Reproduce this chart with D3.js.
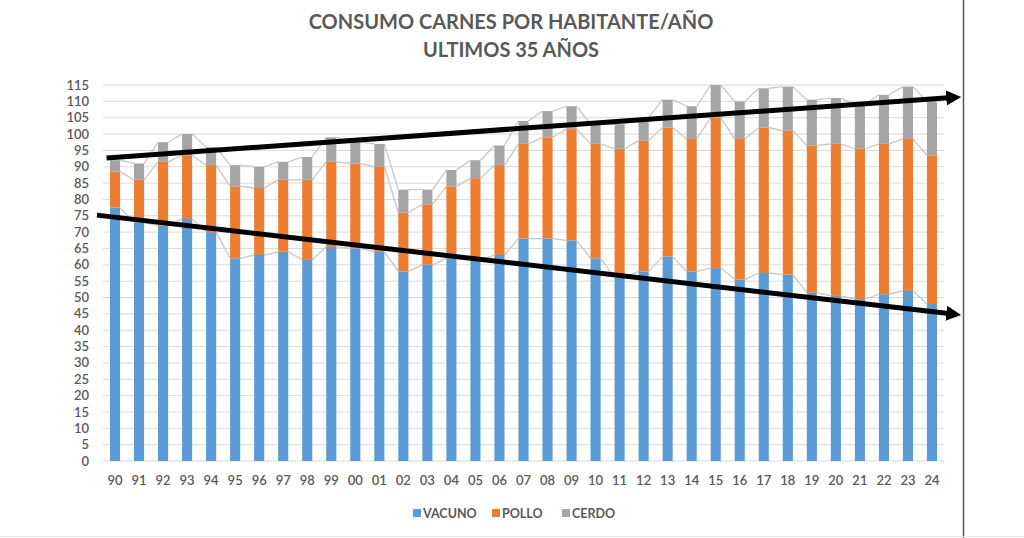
<!DOCTYPE html>
<html><head><meta charset="utf-8">
<script src="https://cdn.jsdelivr.net/npm/d3@7"></script>
<style>body{margin:0;background:#fff;}svg{display:block;}</style>
</head><body>
<svg id="c" width="1024" height="538"></svg>
<script>
const years = ["90","91","92","93","94","95","96","97","98","99","00","01","02","03","04","05","06","07","08","09","10","11","12","13","14","15","16","17","18","19","20","21","22","23","24"];
const vacuno = [77.5,73,72,74,70,62,63,64,61.5,65.5,65,64,58,60,62,61.5,63,68,68,67.5,62,56,58,62.5,58,59,55.5,57.5,57,51.5,50.5,49.5,51,52,48];
const pollo  = [11,13,19.5,19.5,20.5,22,20.5,22,24.5,26,26,26,18,18.5,22,25,27.5,29,31,34,35,39.5,40,39.5,40.5,46,43,44.5,44,45,46.5,46,46,46.5,45.5];
const cerdo  = [3.5,5,6,6.5,5.5,6.5,6.5,5.5,7,7.5,6.5,7,7,4.5,5,5.5,6,7,8,7,6,7.5,7,8.5,10,10,11.5,12,13.5,14,14,13.5,15,16,16.5];
const seriesNames = ["VACUNO","POLLO","CERDO"];
const seriesColors = ["#5B9BD5","#ED7D31","#A5A5A5"];
const yTicks = d3.range(0,116,5);
// hand-drawn trend arrows, in (category index, value) units
const trendUpper = [{i:-0.35,v:92.7},{i:35.3,v:111.4}];
const trendLower = [{i:-0.75,v:75.2},{i:35.3,v:44.6}];
const titleLines = ["CONSUMO CARNES POR HABITANTE/AÑO","ULTIMOS 35 AÑOS"];

const svg = d3.select("#c");
const font = "Lato, 'Open Sans', sans-serif";
const x = d3.scaleBand().domain(years).range([103,944]).paddingInner(0.58).paddingOuter(0.29);
const y = d3.scaleLinear().domain([0,115]).range([461,85]);
const xi = d3.scaleLinear().domain([0,1]).range([x(years[0])+x.bandwidth()/2, x(years[1])+x.bandwidth()/2]);

// gridlines
svg.append("g").selectAll("line").data(yTicks).join("line")
  .attr("x1",103).attr("x2",944).attr("y1",d=>y(d)).attr("y2",d=>y(d))
  .attr("stroke","#d9d9d9").attr("stroke-width",1);

// y labels
svg.append("g").selectAll("text").data(yTicks).join("text")
  .attr("x",89).attr("y",d=>y(d)).attr("dy","0.35em").attr("text-anchor","end")
  .attr("font-family",font).attr("font-size",13).attr("font-weight",600).attr("fill","#595959")
  .text(d=>d);

// stack
const rows = years.map((yr,i)=>({yr, VACUNO:vacuno[i], POLLO:pollo[i], CERDO:cerdo[i]}));
const stack = d3.stack().keys(seriesNames)(rows);

// series lines
stack.forEach((s,si)=>{
  const segs=[];
  for(let i=0;i<s.length-1;i++){
    segs.push({x1:x(years[i])+x.bandwidth(), y1:y(s[i][1]), x2:x(years[i+1]), y2:y(s[i+1][1])});
  }
  svg.append("g").selectAll("line").data(segs).join("line")
    .attr("x1",d=>d.x1).attr("y1",d=>d.y1).attr("x2",d=>d.x2).attr("y2",d=>d.y2)
    .attr("stroke","#c8c8c8").attr("stroke-width",1.3);
});

// bars
svg.append("g").selectAll("g").data(stack).join("g")
  .attr("fill",(d,i)=>seriesColors[i])
  .selectAll("rect").data(d=>d).join("rect")
  .attr("x",d=>x(d.data.yr)).attr("width",x.bandwidth())
  .attr("y",d=>y(d[1])).attr("height",d=>y(d[0])-y(d[1]));

// x labels
svg.append("g").selectAll("text").data(years).join("text")
  .attr("x",d=>x(d)+x.bandwidth()/2).attr("y",485).attr("text-anchor","middle")
  .attr("font-family",font).attr("font-size",13).attr("font-weight",600).attr("fill","#595959")
  .text(d=>d);

// title
svg.append("g").selectAll("text").data(titleLines).join("text")
  .attr("x",511).attr("y",(d,i)=>29+i*28).attr("text-anchor","middle")
  .attr("font-family",font).attr("font-size",20).attr("font-weight",700).attr("fill","#595959")
  .text(d=>d);

// legend
const legX = [413,492,562];
const lg = svg.append("g").selectAll("g").data(seriesNames).join("g")
  .attr("transform",(d,i)=>`translate(${legX[i]},513)`);
lg.append("rect").attr("x",0).attr("y",-4).attr("width",8).attr("height",8).attr("fill",(d,i)=>seriesColors[i]);
lg.append("text").attr("x",10).attr("y",0).attr("dy","0.36em")
  .attr("font-family",font).attr("font-size",12.5).attr("font-weight",700).attr("fill","#595959")
  .text(d=>d);

// arrows
const defs = svg.append("defs");
defs.append("marker").attr("id","ah").attr("viewBox","0 0 10 10").attr("refX",6).attr("refY",5)
  .attr("markerWidth",3).attr("markerHeight",3.2).attr("orient","auto")
  .append("path").attr("d","M0,0L10,5L0,10z").attr("fill","#000");
[trendUpper,trendLower].forEach(t=>{
  svg.append("line")
    .attr("x1",xi(t[0].i)).attr("y1",y(t[0].v)).attr("x2",xi(t[1].i)-8).attr("y2",y(t[1].v)+ (y(t[0].v)-y(t[1].v))/(xi(t[1].i)-xi(t[0].i))*8 )
    .attr("stroke","#000").attr("stroke-width",5).attr("marker-end","url(#ah)");
});

// window edge line
svg.append("line").attr("x1",963.5).attr("x2",963.5).attr("y1",0).attr("y2",538).attr("stroke","#555").attr("stroke-width",1.5);
svg.append("line").attr("x1",0).attr("x2",1024).attr("y1",536.5).attr("y2",536.5).attr("stroke","#e6e6e6").attr("stroke-width",1);
</script>
</body></html>
